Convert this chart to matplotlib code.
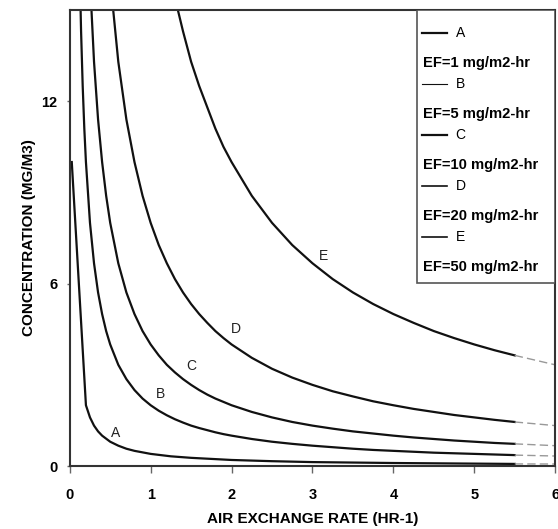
import numpy as np
import matplotlib.pyplot as plt

plt.rcParams['font.family'] = ['Liberation Sans', 'DejaVu Sans']

# valores
xa = [0.025, 0.2, 0.25, 0.3, 0.35, 0.4, 0.5, 0.6, 0.7, 0.8, 1.0, 1.25, 1.5,
      2.0, 2.5, 3.0, 4.0, 5.0, 5.5]
ya = [10, 2.0, 1.6, 1.33, 1.14, 1.0, 0.8, 0.67, 0.57, 0.5, 0.4, 0.32, 0.27,
      0.2, 0.16, 0.13, 0.1, 0.08, 0.07]

xs = [0.1, 0.12, 0.14, 0.16, 0.18, 0.2, 0.25, 0.3, 0.35, 0.4, 0.45, 0.5,
      0.6, 0.7, 0.8, 0.9, 1.0, 1.1, 1.2, 1.3, 1.4, 1.5, 1.6, 1.7, 1.8, 1.9,
      2.0, 2.25, 2.5, 2.75, 3.0, 3.25, 3.5, 3.75, 4.0, 4.25, 4.5, 4.75, 5.0,
      5.25, 5.5]
yb = [20, 16.7, 14.3, 12.5, 11.1, 10, 8, 6.67, 5.71, 5, 4.44, 4,
      3.33, 2.86, 2.5, 2.22, 2, 1.82, 1.67, 1.54, 1.43, 1.33, 1.25, 1.18, 1.11, 1.05,
      1.0, 0.89, 0.8, 0.73, 0.67, 0.62, 0.57, 0.53, 0.5, 0.47, 0.44, 0.42, 0.4,
      0.38, 0.36]
yc = [40, 33.3, 28.6, 25, 22.2, 20, 16, 13.3, 11.4, 10, 8.89, 8,
      6.67, 5.71, 5, 4.44, 4, 3.64, 3.33, 3.08, 2.86, 2.67, 2.5, 2.35, 2.22, 2.11,
      2.0, 1.78, 1.6, 1.45, 1.33, 1.23, 1.14, 1.07, 1.0, 0.94, 0.89, 0.84, 0.8,
      0.76, 0.73]
yd = [80, 66.7, 57.1, 50, 44.4, 40, 32, 26.7, 22.9, 20, 17.8, 16,
      13.3, 11.4, 10, 8.89, 8, 7.27, 6.67, 6.15, 5.71, 5.33, 5, 4.71, 4.44, 4.21,
      4.0, 3.56, 3.2, 2.91, 2.67, 2.46, 2.29, 2.13, 2.0, 1.88, 1.78, 1.68, 1.6,
      1.52, 1.45]
ye = [200, 167, 143, 125, 111, 100, 80, 66.7, 57.1, 50, 44.4, 40,
      33.3, 28.6, 25, 22.2, 20, 18.2, 16.7, 15.4, 14.3, 13.3, 12.5, 11.8, 11.1, 10.5,
      10, 8.89, 8, 7.27, 6.67, 6.15, 5.71, 5.33, 5, 4.71, 4.44, 4.21, 4,
      3.81, 3.64]

# tramo punteado final (5.5 a 6)
x_ext = [5.5, 6.0]
y_ext = [[0.07, 0.067], [0.36, 0.33], [0.73, 0.67], [1.45, 1.33], [3.64, 3.33]]

letras = ['A', 'B', 'C', 'D', 'E']
ef = ['EF=1 mg/m2-hr', 'EF=5 mg/m2-hr', 'EF=10 mg/m2-hr',
      'EF=20 mg/m2-hr', 'EF=50 mg/m2-hr']
pos_letra = [(0.57, 1.08), (1.12, 2.36), (1.5, 3.3), (2.05, 4.5), (3.14, 6.9)]

fig = plt.figure(figsize=(5.58, 5.29), dpi=100)
ax = fig.add_axes([0.125, 0.119, 0.87, 0.862])

curvas = [(xa, ya), (xs, yb), (xs, yc), (xs, yd), (xs, ye)]
for (x, y) in curvas:
    ax.plot(x, y, color='#111111', lw=1.6)
for ye2 in y_ext:
    ax.plot(x_ext, ye2, color='#999999', lw=1.0, ls=(0, (6, 3)))

for l, (px, py) in zip(letras, pos_letra):
    ax.text(px, py, l, fontsize=10, ha='center', va='center', color='#222222')

ax.set_xlim(0, 6)
ax.set_ylim(0, 15)
ax.set_xticks(range(0, 7))
ax.set_yticks([0, 6, 12])
ax.tick_params(labelsize=10.5, direction='out', length=5, width=1, color='#666666')
ax.tick_params(axis='x', pad=11)
ax.tick_params(axis='y', length=2, pad=7)
for t in ax.get_xticklabels() + ax.get_yticklabels():
    t.set_fontweight('bold')
for s in ax.spines.values():
    s.set_linewidth(1.5)
    s.set_color('#333333')
ax.set_xlabel('AIR EXCHANGE RATE (HR-1)', fontsize=11, fontweight='bold', labelpad=7)
ax.set_ylabel('CONCENTRATION (MG/M3)', fontsize=11, fontweight='bold', labelpad=4)

# caja de leyenda dibujada a mano
ax.add_patch(plt.Rectangle((0.715, 0.401), 0.285, 0.599, transform=ax.transAxes,
                           fill=True, facecolor='white', edgecolor='#555555', lw=1.2, zorder=3))
anchos = [1.6, 0.8, 1.6, 1.2, 1.2]
for i in range(5):
    yl = 1 - (33 - 10 + 51 * i) / 456
    yt = 1 - (63 - 10 + 51 * i) / 456
    ax.plot([0.725, 0.777], [yl, yl], transform=ax.transAxes, color='#111111',
            lw=anchos[i], zorder=4)
    ax.text(0.795, yl, letras[i], transform=ax.transAxes, fontsize=10,
            va='center', ha='left', zorder=4)
    ax.text(0.728, yt, ef[i], transform=ax.transAxes, fontsize=10.6,
            fontweight='bold', va='center', ha='left', zorder=4)

fig.savefig('out.png', dpi=100)
